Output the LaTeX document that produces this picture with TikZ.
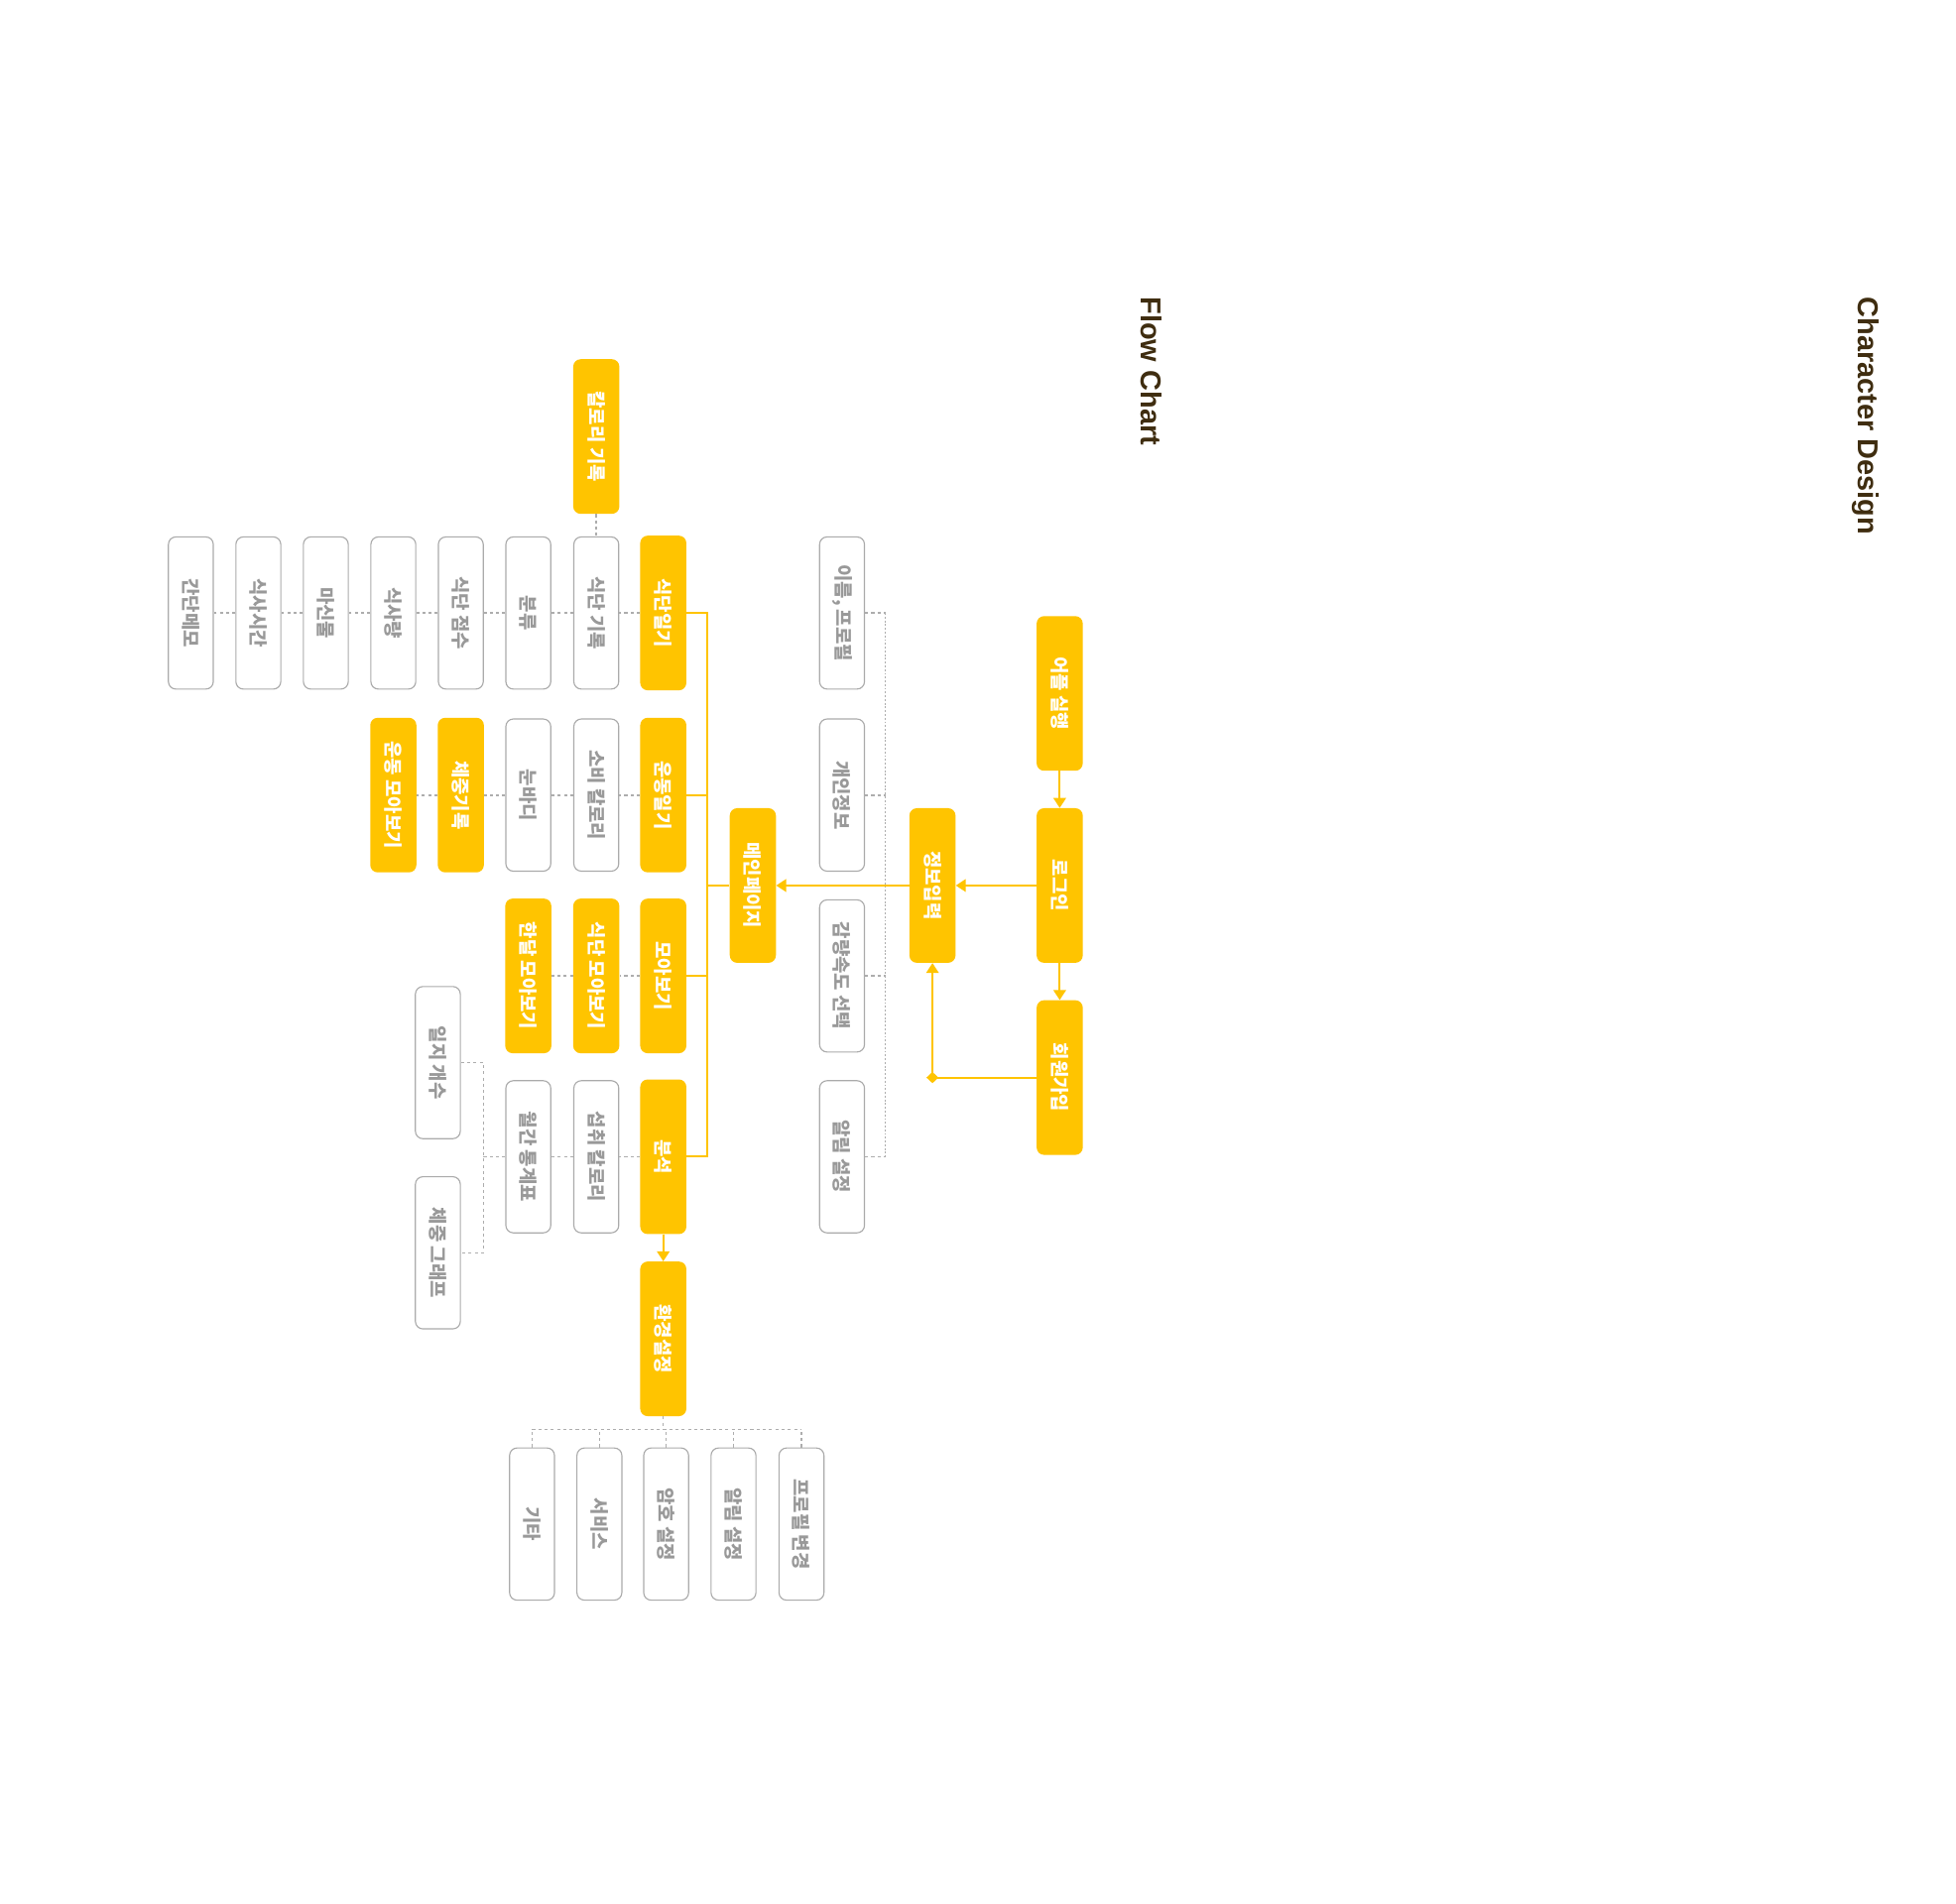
\documentclass[tikz,border=0pt]{standalone}
\usepackage{fontspec}
\usepackage{graphicx}
\usetikzlibrary{arrows.meta}
\newfontfamily\kr{Noto Sans CJK KR}
\newfontfamily\ttl{Liberation Sans}
\definecolor{yel}{HTML}{FFC400}
\definecolor{gline}{HTML}{ABABAB}
\definecolor{gtext}{HTML}{999999}
\definecolor{gdot}{HTML}{ADADAD}
\definecolor{ttlcol}{HTML}{3F2D10}
\newcommand{\vtxt}[1]{\rotatebox{-90}{#1}}
\begin{document}
\begin{tikzpicture}[x=1pt,y=-1pt,
  ybox/.style={rectangle, rounded corners=6pt, fill=yel, minimum width=37pt, minimum height=124pt, inner sep=0pt, font=\kr\bfseries\fontsize{15}{15}\selectfont, text=white},
  gbox/.style={rectangle, rounded corners=6pt, draw=gline, line width=0.9pt, fill=white, minimum width=36pt, minimum height=122pt, inner sep=0pt, font=\kr\bfseries\fontsize{15}{15}\selectfont, text=gtext},
  dotl/.style={draw=gdot, line width=1.2pt, dash pattern=on 2.5pt off 2.5pt},
  thindot/.style={draw=gdot, line width=0.8pt, dash pattern=on 1.5pt off 1.5pt},
  yline/.style={draw=yel, line width=1.6pt},
  yarr/.style={yline, -{Triangle[width=10pt,length=8pt]}},
  ttlnode/.style={rotate=-90, anchor=base west, inner sep=0pt, text=ttlcol, font=\ttl\bfseries\fontsize{23}{23}\selectfont}
]
\useasboundingbox (0,0) rectangle (1568,1526.6);
\fill[white] (0,0) rectangle (1568,1526.6);

% titles
\node[ttlnode] (t1) at (914.5,238) {Flow Chart};
\node[ttlnode] (t2) at (1490,238) {Character Design};

% yellow nodes
\node[ybox] (app) at (849.5,556) {\vtxt{어플 실행}};
\node[ybox] (login) at (849.5,710) {\vtxt{로그인}};
\node[ybox] (join) at (849.5,864) {\vtxt{회원가입}};
\node[ybox] (info) at (747.5,710) {\vtxt{정보입력}};
\node[ybox] (main) at (603.5,710) {\vtxt{메인페이지}};
\node[ybox] (diet) at (531.7,491.5) {\vtxt{식단일기}};
\node[ybox] (exer) at (531.7,637.5) {\vtxt{운동일기}};
\node[ybox] (view) at (531.7,782.5) {\vtxt{모아보기}};
\node[ybox] (anal) at (531.7,927.5) {\vtxt{분석}};
\node[ybox] (sett) at (531.7,1073.5) {\vtxt{환경설정}};
\node[ybox] (calrec) at (478,350) {\vtxt{칼로리 기록}};
\node[ybox] (dietview) at (478,782.5) {\vtxt{식단 모아보기}};
\node[ybox] (monthview) at (423.5,782.5) {\vtxt{한달 모아보기}};
\node[ybox] (weightrec) at (369.4,637.5) {\vtxt{체중기록}};
\node[ybox] (exview) at (315.3,637.5) {\vtxt{운동 모아보기}};

% gray nodes
\node[gbox] (name) at (675,491.5) {\vtxt{이름, 프로필}};
\node[gbox] (pinfo) at (675,637.5) {\vtxt{개인정보}};
\node[gbox] (speed) at (675,782.5) {\vtxt{감량속도 선택}};
\node[gbox] (alarm) at (675,927.5) {\vtxt{알림 설정}};
\node[gbox] (dietrec) at (478,491.5) {\vtxt{식단 기록}};
\node[gbox] (cat) at (423.5,491.5) {\vtxt{분류}};
\node[gbox] (score) at (369.4,491.5) {\vtxt{식단 점수}};
\node[gbox] (amount) at (315.3,491.5) {\vtxt{식사량}};
\node[gbox] (water) at (261.2,491.5) {\vtxt{마신물}};
\node[gbox] (mtime) at (207.1,491.5) {\vtxt{식사시간}};
\node[gbox] (memo) at (153,491.5) {\vtxt{간단메모}};
\node[gbox] (burn) at (478,637.5) {\vtxt{소비 칼로리}};
\node[gbox] (eyebody) at (423.5,637.5) {\vtxt{눈바디}};
\node[gbox] (intake) at (478,927.5) {\vtxt{섭취 칼로리}};
\node[gbox] (stats) at (423.5,927.5) {\vtxt{월간 통계표}};
\node[gbox] (logcnt) at (351,852) {\vtxt{일지 개수}};
\node[gbox] (wgraph) at (351,1004.5) {\vtxt{체중 그래프}};
\node[gbox] (etc) at (426.5,1222) {\vtxt{기타}};
\node[gbox] (svc) at (480.5,1222) {\vtxt{서비스}};
\node[gbox] (pw) at (534,1222) {\vtxt{암호 설정}};
\node[gbox] (alarm2) at (588,1222) {\vtxt{알림 설정}};
\node[gbox] (prof) at (642.5,1222) {\vtxt{프로필 변경}};

% yellow connectors
\draw[yarr] (app) -- (login);
\draw[yarr] (login) -- (join);
\draw[yarr] (login) -- (info);
\draw[yarr] (info) -- (main);
\coordinate (jc) at (747.5,864);
\draw[yline] (join.west) -- (jc);
\draw[yarr] (jc) -- (info.south);
\fill[yel] (jc) ++(-4.8,0) -- ++(4.8,-4.5) -- ++(4.8,4.5) -- ++(-4.8,4.5) -- cycle;

\coordinate (mb) at (567,710);
\draw[yline] (main.west) -- (mb);
\draw[yline] (diet.east) -- (diet.east -| mb) -- (anal.east -| mb) -- (anal.east);
\draw[yline] (exer.east) -- (exer.east -| mb);
\draw[yline] (view.east) -- (view.east -| mb);
\draw[yarr] (anal) -- (sett);

% dotted connectors
\foreach \a/\b in {diet/dietrec, dietrec/cat, cat/score, score/amount, amount/water, water/mtime, mtime/memo,
                   exer/burn, burn/eyebody, eyebody/weightrec, weightrec/exview,
                   view/dietview, dietview/monthview,
                   anal/intake, intake/stats, calrec/dietrec}
  \draw[dotl] (\a) -- (\b);

\coordinate (bk) at (387.5,927.5);
\draw[dotl] (stats.west) -- (bk);
\draw[dotl] (logcnt.east) -- (logcnt.east -| bk) -- (wgraph.east -| bk) -- (wgraph.east);

\coordinate (rb) at (710,710);
\draw[dotl] (name.east) -- (name.east -| rb);
\draw[dotl] (pinfo.east) -- (pinfo.east -| rb);
\draw[dotl] (speed.east) -- (speed.east -| rb);
\draw[dotl] (alarm.east) -- (alarm.east -| rb);
\draw[thindot] (name.east -| rb) -- (alarm.east -| rb);

\coordinate (sb) at (532,1146.3);
\draw[dotl] (sett.south) -- (sett.south |- sb);
\draw[dotl] (etc.north |- sb) -- (prof.north |- sb);
\foreach \n in {etc,svc,pw,alarm2,prof}
  \draw[dotl] (\n.north) -- (\n.north |- sb);
\end{tikzpicture}
\end{document}
